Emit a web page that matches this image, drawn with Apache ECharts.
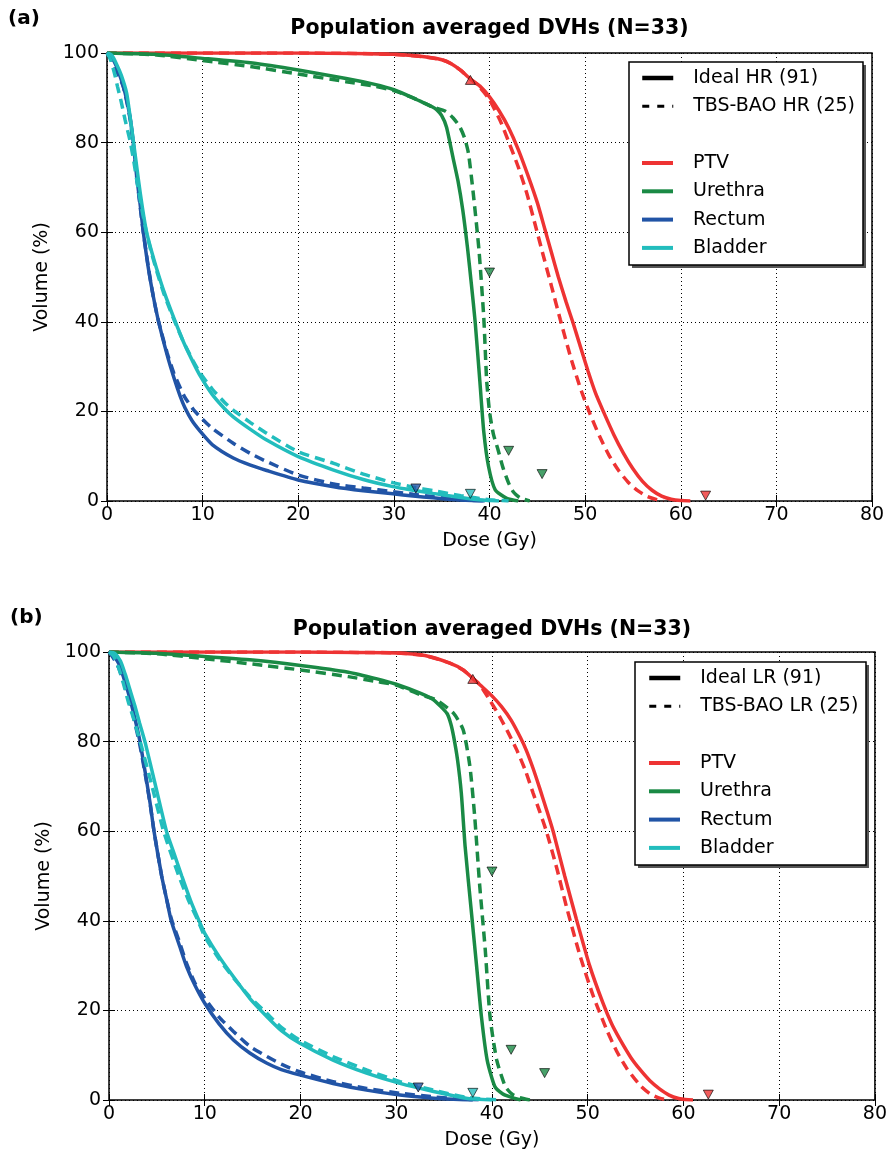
<!DOCTYPE html>
<html><head><meta charset="utf-8">
<script src="https://cdn.jsdelivr.net/npm/echarts@6/dist/echarts.min.js"></script>
<style>html,body{margin:0;padding:0;background:#fff}#c{width:890px;height:1156px}</style>
</head><body><div id="c"></div>
<script>
// ---------- tick labels ----------
const doseTicks = [0, 10, 20, 30, 40, 50, 60, 70, 80];
const volTicks = [0, 20, 40, 60, 80, 100];
const structures = ['PTV', 'Urethra', 'Rectum', 'Bladder'];

// ---------- panel (a): HR ----------
const hrPtvIdeal = [[0,100],[20,100],[26,99.9],[30,99.7],[33,99.2],[35,98.5],[36,97.6],[37,96.1],[38,94.2],[39,92.6],[40,90.2],[41,87.1],[42,83.3],[43,78.5],[44,72.8],[45,66.6],[45.8,60.6],[46.5,55.3],[47.2,50],[48,44.5],[48.7,40],[49.5,34.5],[50.3,29],[51.1,24],[51.9,20],[53,14.8],[54,10.7],[55,7.2],[56,4.4],[57,2.4],[58,1.1],[59,0.4],[60,0.1],[61,0]];
const hrPtvTbs = [[0,100],[20,100],[26,99.9],[30,99.7],[33,99.2],[35,98.5],[36,97.6],[37,96.1],[38,94.2],[38.7,93],[39.9,89.9],[41.1,85],[42,80.2],[43,74.6],[43.9,68.7],[44.8,61.5],[45.5,55.8],[46.5,47.8],[47.4,40.5],[48.5,32],[49.5,25.2],[50.5,19.5],[51.5,14.5],[52.5,10.2],[53.5,6.8],[54.5,4.2],[55.5,2.3],[56.5,1],[57.5,0.3],[58.2,0]];
const hrUrethraIdeal = [[0,100],[5,99.7],[10,98.8],[15,97.8],[20,96.2],[25,94.3],[28,93],[30,91.8],[32,90],[33,89],[34,88],[34.5,87.3],[35,86],[35.5,83.5],[36.2,76.5],[36.7,71.5],[37.2,65],[37.7,56.5],[38.1,48.5],[38.5,40],[39,26.5],[39.4,15.5],[39.9,7.7],[40.6,2.5],[41.8,0.6],[43,0]];
const hrUrethraTbs = [[0,100],[5,99.6],[10,98.3],[15,97],[20,95.3],[25,93.6],[28,92.6],[30,91.6],[32,90],[33,89],[34,88],[35.4,87],[36.2,85.5],[36.9,83.5],[37.4,81],[37.8,77.6],[38.3,68.7],[38.9,56],[39.4,41],[39.7,27],[40,20],[40.4,15],[40.9,11.4],[41.4,7.5],[42,4],[42.5,2],[43.2,0.7],[44.2,0]];
const hrRectumIdeal = [[0,100],[0.5,99],[1,97],[1.5,94],[1.9,91],[2.4,85.8],[2.75,80],[3.1,72.5],[3.45,66.5],[3.8,60],[4.3,52.3],[4.85,45.6],[5.4,40],[6.3,32.5],[7,27.5],[7.63,23.5],[8.15,20.8],[8.9,17.9],[9.73,15.6],[11,12.6],[13.2,9.6],[15,8],[16.7,6.8],[20,4.7],[23.7,3.2],[26.8,2.3],[29.9,1.6],[32,1.1],[34.1,0.7],[36,0.35],[38,0.1],[39.5,0]];
const hrRectumTbs = [[0,100],[0.5,98.5],[1,96],[1.7,92.5],[2.4,85.5],[2.75,79.5],[3.1,72.5],[3.45,66],[3.8,60],[4.3,52.5],[4.85,45.5],[5.4,40],[6.3,33],[7,28.5],[8.1,23.3],[9,20.5],[9.73,18.8],[10.9,16.4],[13.2,12.9],[15,10.6],[16.7,8.8],[20,5.8],[23.7,3.8],[26.8,2.9],[29.9,2.1],[32,1.5],[34.1,1],[36,0.5],[38,0.15],[40,0]];
const hrBladderIdeal = [[0,100],[0.5,99.5],[1,97.5],[1.5,95],[2.06,91],[2.4,86],[2.75,80.5],[3.3,71.5],[3.7,65.5],[4.14,60],[4.6,56.2],[5.2,51.8],[6,46.5],[7,40.8],[8,35.5],[9,31],[9.73,28],[11,23.8],[12.3,20.6],[13.2,18.8],[15,16],[16.7,13.6],[20,9.9],[23.7,6.9],[26.8,4.8],[29.9,3.2],[32,2.4],[34.1,1.7],[37,0.8],[39.3,0.2],[41,0]];
const hrBladderTbs = [[0,100],[0.4,98.3],[0.8,95.3],[1.1,92.5],[1.5,89],[1.9,85],[2.4,80.5],[2.75,76.5],[3.2,70.5],[3.7,64.5],[4.14,59.8],[4.6,55.8],[5.2,51.3],[6,46],[7,40.5],[8,35.5],[9,31.3],[9.73,28.6],[11,25],[12.3,22],[13.2,20.3],[15,17.5],[16.7,15.1],[20,11],[23.7,8.4],[26.8,6],[29.9,4.1],[32,3.1],[34.1,2.3],[37,1.2],[40,0.3],[42,0]];

// ---------- panel (b): LR ----------
const lrPtvIdeal = [[0,100],[20,100],[26,99.9],[30,99.8],[33,99.2],[35.6,97.5],[37,96],[38,94.1],[39,92.2],[40,90.2],[41,87.8],[42,84.8],[43,80.8],[43.6,78],[44.3,74],[45,69.5],[45.7,64.8],[46.4,59.9],[47.6,50],[48.8,40.5],[50.2,30],[51.6,21.6],[52.5,17],[53.4,13.4],[54.5,9.5],[55.5,6.7],[56.5,4.3],[57.5,2.5],[58.5,1.1],[59.5,0.35],[60.5,0.05],[61,0]];
const lrPtvTbs = [[0,100],[20,100],[26,99.9],[30,99.8],[33,99.2],[35.6,97.5],[37,96],[38,94.1],[38.7,92.8],[39.7,89.5],[40.8,85.6],[41.7,82],[42.6,78.1],[43.5,73.5],[44.3,68.5],[45,64.3],[45.7,59.9],[46.8,51.5],[47.8,43],[49.2,32.2],[50.6,23.1],[52,15.6],[53,11],[54.1,7],[55.5,3.2],[56.5,1.4],[57.5,0.4],[58.3,0]];
const lrUrethraIdeal = [[0,100],[5,99.7],[10,99],[15,98.2],[20,97],[25,95.5],[28,94],[30,92.8],[32.5,90.8],[33.9,89.3],[35.3,86.3],[35.7,84],[36,81.1],[36.4,76],[36.8,68.5],[37.2,56.5],[37.9,40.9],[38.4,29.8],[38.9,18.6],[39.5,8.9],[40.3,3],[41.1,1.4],[41.9,0.7],[43,0]];
const lrUrethraTbs = [[0,100],[5,99.6],[10,98.5],[15,97.3],[20,96],[25,94.5],[28,93.4],[30,92.6],[32.5,90.5],[34.2,89.3],[36,86.3],[37,82.6],[37.7,74.4],[38.2,63.2],[38.7,48.4],[39.3,33.5],[39.8,18.6],[40.5,8.9],[41.4,3],[42.1,1.3],[42.9,0.5],[44,0]];
const lrRectumIdeal = [[0,100],[0.5,99],[1,97.5],[1.5,94.5],[2,91],[2.5,87],[3.2,80.4],[3.8,72.9],[4.3,66.2],[4.7,60],[5.5,50],[6,45],[6.5,40],[7.4,34.2],[8.1,29.8],[9,25.5],[10,21.6],[11.5,17],[13,13.4],[14.7,10.5],[16.5,8.2],[18,6.8],[19.9,5.6],[23.4,3.7],[26.9,2.2],[30.4,1.1],[33.9,0.4],[36,0.15],[38,0]];
const lrRectumTbs = [[0,100],[0.5,98.5],[1,96.5],[1.5,93.5],[2,90],[2.5,86],[3.2,79.5],[3.8,72.5],[4.3,66],[4.7,60],[5.5,50],[6,45],[6.5,40.5],[7.4,35],[8.1,30.5],[9,26],[10,22.7],[11.5,18.5],[13,15.3],[14.7,12],[16.5,9.7],[18,8],[19.9,6.3],[23.4,4.1],[26.9,2.6],[30.4,1.5],[33.9,0.7],[36,0.3],[39,0]];
const lrBladderIdeal = [[0,100],[0.6,99.7],[1.2,98],[1.7,95],[2.2,91.5],[2.7,88],[3.2,84.1],[3.8,79.6],[4.8,70.7],[6,60],[6.8,55],[7.6,50],[8.5,44.6],[9.5,39.5],[10,37.2],[11.5,32],[13,27.5],[14.7,22.7],[16.5,18.6],[18,15.5],[19.9,12.7],[23.4,8.9],[26.9,6],[30.4,3.7],[33.9,1.9],[37.3,0.4],[40,0]];
const lrBladderTbs = [[0,100],[0.5,99],[1,96.5],[1.5,93],[2,89],[2.5,85.6],[3.4,78.9],[4.5,70],[5.7,60],[7.3,50],[8.3,44.6],[9.3,40],[10,36.5],[11.5,31.5],[13,27.3],[14.7,23],[16.5,19.3],[18,16.2],[19.9,13.4],[23.4,9.7],[26.9,6.7],[30.4,4.1],[33.9,2.2],[37.3,0.6],[40,0.1],[41,0]];

// ---------- constraint markers (same for both panels) ----------
const markPtvUp = [[38, 94]];
const markPtvDown = [[62.6, 1.2]];
const markUrethraDown = [[40, 51], [42, 11.2], [45.5, 6]];
const markRectumDown = [[32.3, 2.8]];
const markBladderDown = [[38, 1.6]];

// ---------- styling ----------
const colors = { PTV: '#ee3333', Urethra: '#1a8a45', Rectum: '#2154a6', Bladder: '#22bdbd' };
const FONT = "'DejaVu Sans', sans-serif";
const DASH = [10, 6];

const chart = echarts.init(document.getElementById('c'), null, { renderer: 'canvas' });

const panels = [
  { grid: { left: 107, top: 53, width: 765, height: 448 }, ideal: 'Ideal HR (91)', tbs: 'TBS-BAO HR (25)',
    curves: { PTV: [hrPtvIdeal, hrPtvTbs], Urethra: [hrUrethraIdeal, hrUrethraTbs], Rectum: [hrRectumIdeal, hrRectumTbs], Bladder: [hrBladderIdeal, hrBladderTbs] },
    legendLeft: 640, legendTop1: 68, legendTop2: 153, box: [629, 62, 234, 203],
    tag: { text: '(a)', left: 8, top: 9 }, title: { left: 489.5, top: 18 }, yNameGap: 50 },
  { grid: { left: 109, top: 652, width: 766, height: 448 }, ideal: 'Ideal LR (91)', tbs: 'TBS-BAO LR (25)',
    curves: { PTV: [lrPtvIdeal, lrPtvTbs], Urethra: [lrUrethraIdeal, lrUrethraTbs], Rectum: [lrRectumIdeal, lrRectumTbs], Bladder: [lrBladderIdeal, lrBladderTbs] },
    legendLeft: 647, legendTop1: 668, legendTop2: 753, box: [635, 662, 231, 203],
    tag: { text: '(b)', left: 10, top: 608 }, title: { left: 492, top: 619 }, yNameGap: 50 }
];

const grid = [], xAxis = [], yAxis = [], series = [], legend = [], title = [], graphic = [];
const tickStyle = { inside: true, length: 6, lineStyle: { color: '#000', width: 1 } };
const labelStyle = { color: '#000', fontFamily: FONT, fontSize: 19 };

panels.forEach((p, i) => {
  grid.push(Object.assign({ show: true, borderColor: '#000', borderWidth: 1.5, backgroundColor: 'transparent', containLabel: false }, p.grid));
  const xi = xAxis.length, yi = yAxis.length;
  xAxis.push({ type: 'value', gridIndex: i, position: 'bottom', min: doseTicks[0], max: doseTicks[doseTicks.length - 1], interval: 10,
    axisLine: { show: false }, axisTick: tickStyle,
    axisLabel: Object.assign({ margin: 5, formatter: v => doseTicks.includes(v) ? String(v) : '' }, labelStyle),
    splitLine: { show: true, lineStyle: { color: '#000', width: 1, type: [1, 3] } },
    name: 'Dose (Gy)', nameLocation: 'middle', nameGap: 31, nameTextStyle: labelStyle });
  xAxis.push({ type: 'value', gridIndex: i, position: 'top', min: 0, max: 80, interval: 10,
    axisLine: { show: false }, axisTick: tickStyle, axisLabel: { show: false }, splitLine: { show: false } });
  yAxis.push({ type: 'value', gridIndex: i, position: 'left', min: volTicks[0], max: volTicks[volTicks.length - 1], interval: 20,
    axisLine: { show: false }, axisTick: tickStyle,
    axisLabel: Object.assign({ margin: 8, formatter: v => volTicks.includes(v) ? String(v) : '' }, labelStyle),
    splitLine: { show: true, lineStyle: { color: '#000', width: 1, type: [1, 3] } },
    name: 'Volume (%)', nameLocation: 'middle', nameGap: p.yNameGap, nameRotate: 90, nameTextStyle: labelStyle });
  yAxis.push({ type: 'value', gridIndex: i, position: 'right', min: 0, max: 100, interval: 20,
    axisLine: { show: false }, axisTick: tickStyle, axisLabel: { show: false }, splitLine: { show: false } });

  // dummy series for legend style entries
  series.push({ type: 'line', name: p.ideal, data: [], xAxisIndex: xi, yAxisIndex: yi, symbol: 'none', color: '#000', lineStyle: { color: '#000', width: 4 } });
  series.push({ type: 'line', name: p.tbs, data: [], xAxisIndex: xi, yAxisIndex: yi, symbol: 'none', color: '#000', lineStyle: { color: '#000', width: 3, type: [7, 8] } });

  structures.forEach(s => {
    const [ideal, tbs] = p.curves[s];
    [[ideal, 'solid'], [tbs, DASH]].forEach(([d, t]) => {
      series.push({ type: 'line', name: s, data: d, xAxisIndex: xi, yAxisIndex: yi, symbol: 'none', showSymbol: false,
        smooth: 0.2, color: colors[s], lineStyle: { color: colors[s], width: 3.5, type: t }, z: 2, silent: true });
    });
  });

  const markers = [[markPtvUp, colors.PTV, 0], [markPtvDown, colors.PTV, 180], [markUrethraDown, colors.Urethra, 180], [markRectumDown, colors.Rectum, 180], [markBladderDown, colors.Bladder, 180]];
  markers.forEach(([d, c, rot]) => {
    series.push({ type: 'scatter', data: d, xAxisIndex: xi, yAxisIndex: yi, symbol: 'triangle', symbolSize: [10, 9], symbolRotate: rot,
      itemStyle: { color: c, borderColor: '#000', borderWidth: 0.8 }, z: 5, silent: true });
  });

  const lg = { orient: 'vertical', left: p.legendLeft, itemWidth: 31, itemHeight: 14, itemGap: 8.3, padding: 0, selectedMode: false,
    itemStyle: { opacity: 0 },
    textStyle: { color: '#000', fontFamily: FONT, fontSize: 19, lineHeight: 20, padding: [0, 0, 0, 15] }, z: 10 };
  legend.push(Object.assign({}, lg, { top: p.legendTop1, data: [
    { name: p.ideal, lineStyle: { width: 4.5 } },
    { name: p.tbs, lineStyle: { width: 3, type: [7, 8] } }] }));
  legend.push(Object.assign({}, lg, { top: p.legendTop2, data: structures.map(s => ({ name: s, lineStyle: { width: 4 } })) }));

  const [bx, by, bw, bh] = p.box;
  graphic.push({ type: 'rect', z: 8, shape: { x: bx + 3, y: by + 3, width: bw, height: bh }, style: { fill: '#555' } });
  graphic.push({ type: 'rect', z: 9, shape: { x: bx, y: by, width: bw, height: bh }, style: { fill: '#fff', stroke: '#000', lineWidth: 1.5 } });

  title.push({ text: p.tag.text, left: p.tag.left, top: p.tag.top, padding: 0, textStyle: { fontFamily: FONT, fontSize: 20, fontWeight: 'bold', color: '#000' } });
  title.push({ text: 'Population averaged DVHs (N=33)', left: p.title.left, top: p.title.top, textAlign: 'center', padding: 0,
    textStyle: { fontFamily: FONT, fontSize: 20.5, fontWeight: 'bold', color: '#000' } });
});

chart.setOption({ animation: false, backgroundColor: '#fff', title, grid, xAxis, yAxis, series, legend, graphic });
</script></body></html>
